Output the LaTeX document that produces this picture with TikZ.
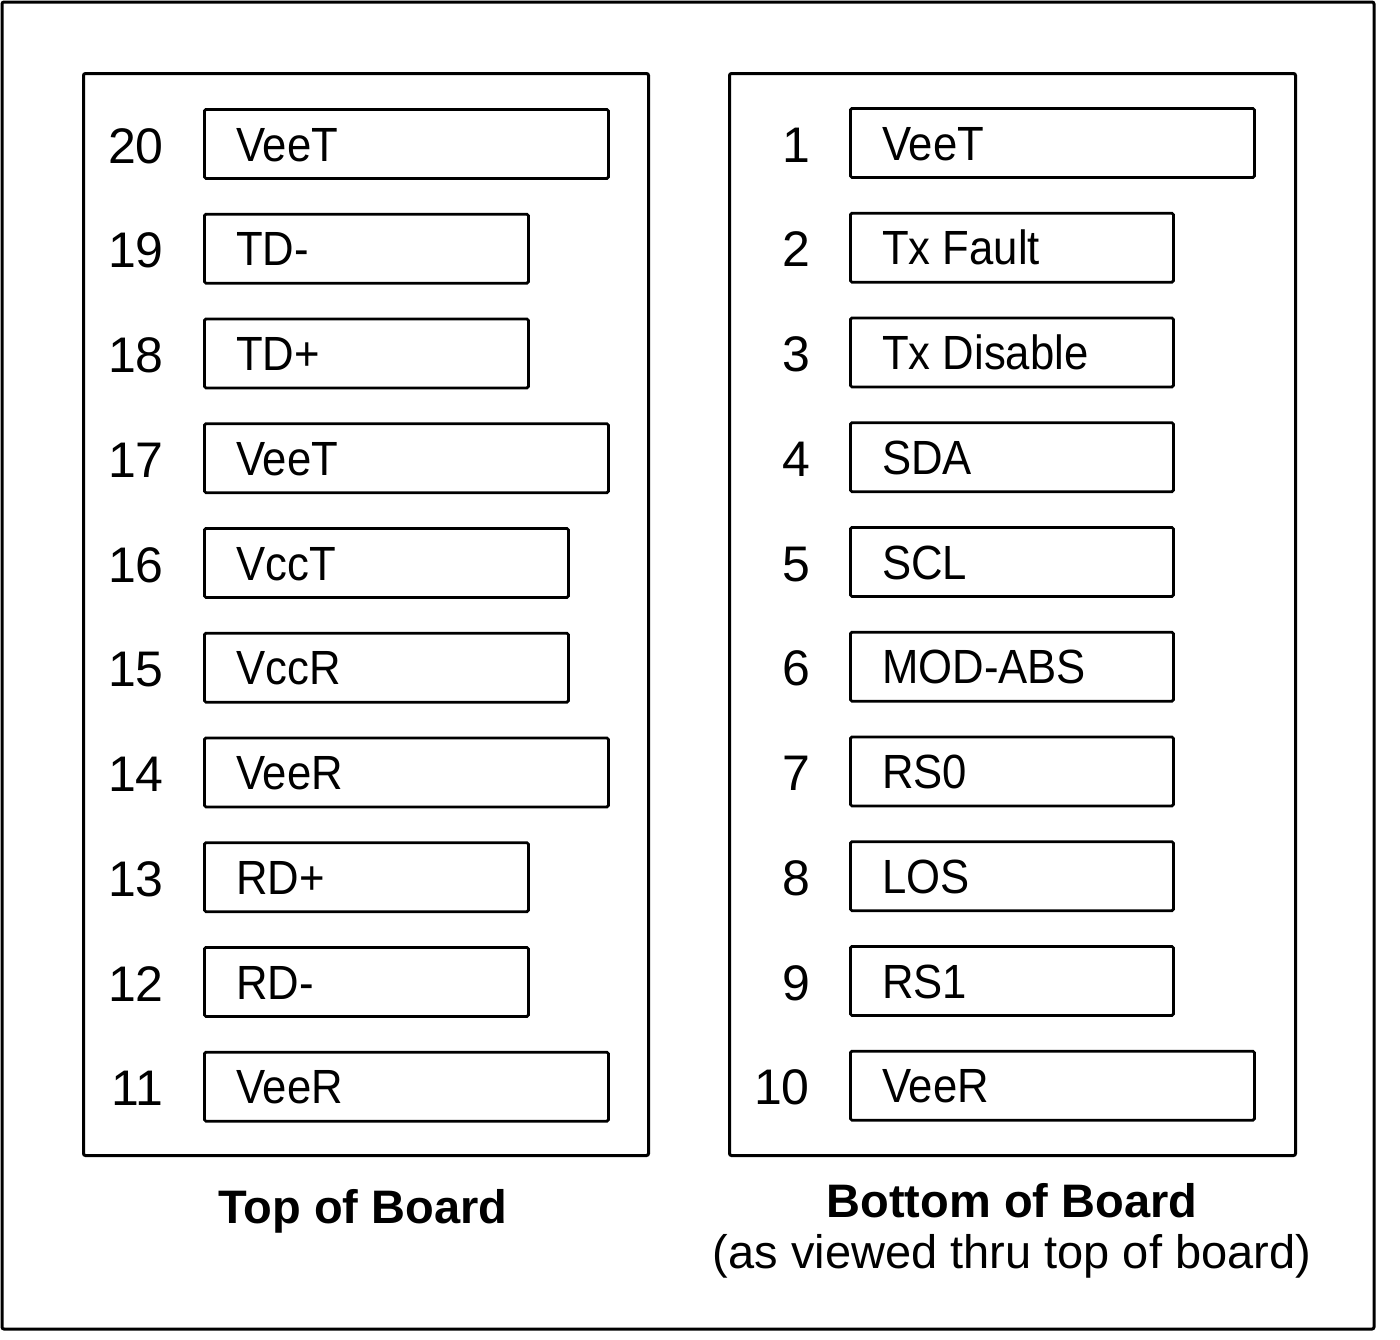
\documentclass[tikz,border=0pt]{standalone}
\usepackage{fontspec}
\setmainfont{Liberation Sans}
\newfontfamily\lblfont[FakeStretch=0.91]{Liberation Sans}
\begin{document}
\begin{tikzpicture}[x=1pt,y=-1pt,
  frame/.style={draw, line width=3pt, rounded corners=2pt},
  pinbox/.style={draw, line width=2.8pt, rounded corners=1.5pt, anchor=north west,
    minimum height=69pt, inner sep=0pt},
  lbl/.style={anchor=base west, inner sep=0pt, font=\lblfont\fontsize{48}{48}\selectfont},
  num/.style={anchor=base east, inner sep=0pt, font=\fontsize{50}{50}\selectfont},
  title/.style={anchor=base, inner sep=0pt, font=\bfseries\fontsize{47}{47}\selectfont},
  sub/.style={anchor=base, inner sep=0pt, font=\fontsize{47}{47}\selectfont}]
\useasboundingbox (0,0) rectangle (1400,1339);
% outer border
\draw[frame] (2,2) rectangle (1374,1329);
% panels
\node (leftpanel) [frame, anchor=north west, minimum width=565pt, minimum height=1082pt, inner sep=0pt] at (82,72) {};
\node (rightpanel) [frame, anchor=north west, minimum width=566pt, minimum height=1082pt, inner sep=0pt] at (728,72) {};
% left column pins
\foreach \n/\t/\r [count=\i from 0] in {20/VeeT/607, 19/TD-/527, 18/TD+/527, 17/VeeT/607, 16/VccT/567, 15/VccR/567, 14/VeeR/607, 13/RD+/527, 12/RD-/527, 11/VeeR/607} {
  \pgfmathsetmacro\top{108+\i*104.75}
  \pgfmathsetmacro\w{\r-203}
  \node (box\n) [pinbox, minimum width=\w pt] at (203,\top) {};
  \node (lbl\n) [lbl] at (236,\top+53) {\t};
  \node (num\n) [num] at (164,\top+55) {\n};
}
% right column pins
\foreach \n/\t/\r [count=\i from 0] in {1/VeeT/1253, 2/Tx Fault/1172, 3/Tx Disable/1172, 4/SDA/1172, 5/SCL/1172, 6/MOD-ABS/1172, 7/RS0/1172, 8/LOS/1172, 9/RS1/1172, 10/VeeR/1253} {
  \pgfmathsetmacro\top{107+\i*104.75}
  \pgfmathsetmacro\w{\r-849}
  \node (box\n) [pinbox, minimum width=\w pt] at (849,\top) {};
  \node (lbl\n) [lbl] at (882,\top+53) {\t};
  \node (num\n) [num] at (810,\top+55) {\n};
}
% captions
\node (toptitle) [title] at (363,1223) {Top of Board};
\node (bottitle) [title] at (1012,1217) {Bottom of Board};
\node (botsub) [sub] at (1012,1268) {(as viewed thru top of board)};
\end{tikzpicture}
\end{document}
